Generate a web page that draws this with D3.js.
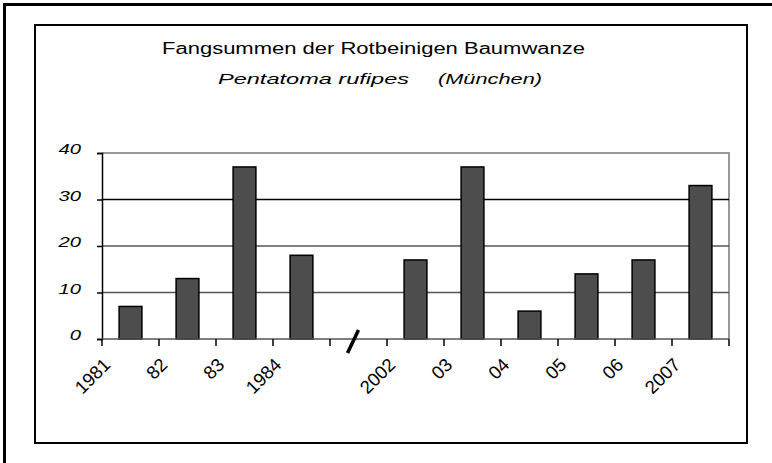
<!DOCTYPE html>
<html>
<head>
<meta charset="utf-8">
<script src="https://cdn.jsdelivr.net/npm/d3@7"></script>
<style>
  body { margin: 0; background: #fff; }
  svg { display: block; font-family: "Liberation Sans", Arial, sans-serif; }
</style>
</head>
<body>
<div id="drawArea"></div>
<script>
// years on the x axis, '' is the gap between the two periods
const years = ['1981', '82', '83', '1984', '', '2002', '03', '04', '05', '06', '2007'];
const catches = [7, 13, 37, 18, null, 17, 37, 6, 14, 17, 33];
const yTicks = [0, 10, 20, 30, 40];

const width = 772;
const height = 463;
const plot = { left: 102, right: 729, top: 153, bottom: 339 };
const sx = 1.35; // the picture is stretched sideways

const svg = d3.select('#drawArea').append('svg')
  .attr('width', width)
  .attr('height', height);

svg.append('rect').attr('width', width).attr('height', height).attr('fill', '#fff');

// outer frame (top + left only)
svg.append('path')
  .attr('d', `M4.5,${height} V4.5 H${width}`)
  .attr('fill', 'none')
  .attr('stroke', '#000')
  .attr('stroke-width', 3);

// chart box
svg.append('rect')
  .attr('x', 35).attr('y', 25)
  .attr('width', 712).attr('height', 418)
  .attr('fill', 'none')
  .attr('stroke', '#000')
  .attr('stroke-width', 2);

svg.append('text')
  .attr('x', 162).attr('y', 54)
  .attr('font-size', 16)
  .attr('textLength', 423)
  .attr('lengthAdjust', 'spacingAndGlyphs')
  .text('Fangsummen der Rotbeinigen Baumwanze');

svg.append('text')
  .attr('x', 218).attr('y', 84)
  .attr('font-size', 15.5)
  .attr('font-style', 'italic')
  .attr('textLength', 191)
  .attr('lengthAdjust', 'spacingAndGlyphs')
  .text('Pentatoma rufipes');

svg.append('text')
  .attr('x', 438).attr('y', 84)
  .attr('font-size', 15.5)
  .attr('font-style', 'italic')
  .attr('textLength', 104)
  .attr('lengthAdjust', 'spacingAndGlyphs')
  .text('(München)');

const xSlot = d3.scaleBand()
  .domain(d3.range(years.length))
  .range([plot.left, plot.right]);

const xBar = d3.scaleBand()
  .domain(d3.range(years.length))
  .range([plot.left, plot.right])
  .paddingInner(0.6)
  .paddingOuter(0.3);

const y = d3.scaleLinear()
  .domain([0, 40])
  .range([plot.bottom, plot.top]);

// plot frame, top and right in grey
svg.append('path')
  .attr('d', `M${plot.left},${plot.top} H${plot.right} V${plot.bottom}`)
  .attr('fill', 'none')
  .attr('stroke', '#999')
  .attr('stroke-width', 2);

// grid
svg.append('g')
  .selectAll('line')
  .data(yTicks.filter(t => t > 0 && t < 40))
  .join('line')
  .attr('x1', plot.left).attr('x2', plot.right)
  .attr('y1', d => y(d)).attr('y2', d => y(d))
  .attr('stroke', d => (d === 30 ? '#000' : '#555'))
  .attr('stroke-width', 1.5);

// bars
svg.append('g')
  .selectAll('rect')
  .data(catches.map((v, i) => ({ i, v })).filter(d => d.v !== null))
  .join('rect')
  .attr('x', d => xBar(d.i))
  .attr('y', d => y(d.v))
  .attr('width', xBar.bandwidth())
  .attr('height', d => y(0) - y(d.v))
  .attr('fill', '#4d4d4d')
  .attr('stroke', '#000')
  .attr('stroke-width', 1.5);

// y axis
const yAxis = svg.append('g')
  .attr('transform', `translate(${plot.left},0)`)
  .call(d3.axisLeft(y).tickValues(yTicks).tickSize(5).tickFormat(''));
yAxis.select('.domain').attr('stroke', '#000').attr('stroke-width', 1.5);
yAxis.selectAll('.tick line').attr('stroke', '#000').attr('stroke-width', 1.5);

svg.append('g')
  .selectAll('text')
  .data(yTicks)
  .join('text')
  .attr('transform', d => `translate(81,${y(d) + 1}) scale(${sx},1)`)
  .attr('text-anchor', 'end')
  .attr('font-size', 15)
  .attr('font-style', 'italic')
  .text(d => d);

// x axis with ticks on the slot borders
svg.append('line')
  .attr('x1', plot.left).attr('x2', plot.right)
  .attr('y1', y(0)).attr('y2', y(0))
  .attr('stroke', '#555')
  .attr('stroke-width', 1.5);

svg.append('g')
  .selectAll('line')
  .data(d3.range(years.length + 1))
  .join('line')
  .attr('x1', i => (i < years.length ? xSlot(i) : plot.right))
  .attr('x2', i => (i < years.length ? xSlot(i) : plot.right))
  .attr('y1', y(0)).attr('y2', y(0) + 7)
  .attr('stroke', '#000')
  .attr('stroke-width', 1.5);

svg.append('g')
  .selectAll('text')
  .data(years.map((t, i) => ({ t, i })).filter(d => d.t !== ''))
  .join('text')
  .attr('transform', d => `translate(${xSlot(d.i) + xSlot.bandwidth() / 2 - 19},366) rotate(-45)`)
  .attr('text-anchor', 'end')
  .attr('font-size', 18.5)
  .text(d => d.t);

// break mark in the gap
const gap = years.indexOf('');
const gx = xSlot(gap) + xSlot.bandwidth() / 2 - 5;
svg.append('line')
  .attr('x1', gx - 6).attr('y1', y(0) + 14)
  .attr('x2', gx + 5).attr('y2', y(0) - 9)
  .attr('stroke', '#000')
  .attr('stroke-width', 3.5);
</script>
</body>
</html>
